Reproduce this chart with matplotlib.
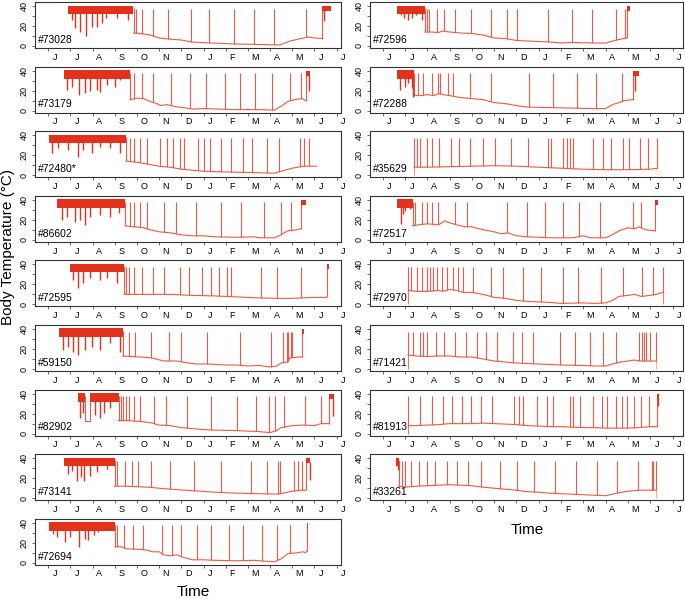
import matplotlib.pyplot as plt
import matplotlib.transforms as mtransforms

plt.rcParams['font.family'] = ['Liberation Sans', 'DejaVu Sans']

# x axis in months since 1 June (0 = Jun, 13 = Jul next year)
months = ["J", "J", "A", "S", "O", "N", "D", "J", "F", "M", "A", "M", "J", "J"]

ids = ["#73028", "#73179", "#72480*", "#86602", "#72595", "#59150", "#82902", "#73141", "#72694",
       "#72596", "#72288", "#35629", "#72517", "#72970", "#71421", "#81913", "#33261"]

# euthermic summer periods (start, end)
summers = [
    [(0.9, 3.82)], [(0.71, 3.7)], [(0.05, 3.51)], [(0.41, 3.47)], [(0.98, 3.42)],
    [(0.5, 3.36)], [(1.36, 1.66), (1.86, 3.17)], [(0.72, 2.99)], [(0.05, 3.02)],
    [(0.66, 1.9)], [(0.66, 1.41)], [], [(0.66, 1.35)], [], [], [], [(0.6, 0.72)],
]

# downward spikes during the summer (month, min Tb)
summer_dips = [
    [(1.05, 26), (1.2, 18), (1.43, 14), (1.7, 10), (1.96, 19), (2.19, 19), (2.41, 23), (2.6, 28), (3.1, 28), (3.6, 26)],
    [(0.83, 21), (1.06, 24), (1.39, 16), (1.66, 18), (1.89, 20), (2.19, 21), (2.34, 19), (2.64, 26), (3.02, 24), (3.24, 31)],
    [(0.15, 22), (0.45, 27), (0.9, 25), (1.36, 18), (1.58, 25), (1.96, 22), (2.34, 28), (2.79, 27), (3.24, 22)],
    [(0.6, 20), (0.83, 23), (1.21, 18), (1.43, 20), (1.66, 15), (1.89, 23), (2.34, 25), (2.79, 23), (3.17, 27)],
    [(1.13, 24), (1.36, 16), (1.58, 21), (1.89, 26), (2.34, 24), (2.64, 26), (3.09, 21)],
    [(0.68, 19), (0.9, 22), (1.13, 17), (1.36, 14), (1.66, 19), (1.96, 22), (2.34, 19), (2.79, 26), (3.24, 17)],
    [(1.45, 16), (1.58, 21), (2.11, 19), (2.34, 16), (2.49, 21), (2.79, 26), (3.02, 33)],
    [(0.9, 24), (1.06, 27), (1.28, 17), (1.46, 21), (1.61, 17), (1.89, 22), (2.19, 26), (2.64, 29)],
    [(0.23, 29), (0.38, 26), (0.75, 21), (0.98, 26), (1.39, 16), (1.66, 24), (1.81, 23), (2.04, 28), (2.26, 31)],
    [(0.81, 31), (0.96, 28), (1.15, 26), (1.3, 28), (1.49, 31), (1.75, 26)],
    [(0.78, 21), (1.0, 24), (1.15, 28), (1.3, 23), (1.38, 14)],
    [],
    [(0.82, 16), (0.9, 26), (1.0, 29), (1.23, 31)],
    [], [], [],
    [(0.68, 28)],
]

# short drop to torpor inside a summer (only #82902)
gap_lines = [None] * 6 + [[(1.66, 13), (1.86, 13)]] + [None] * 10

# torpor baseline (month, Tb)
bases = [
    [(3.85, 13), (4.3, 12), (4.6, 11), (5.0, 8), (5.4, 7), (6.0, 6), (6.45, 4), (7.4, 3), (8.4, 2), (9.6, 1.5),
     (10.45, 1), (10.9, 5), (11.5, 8), (11.75, 9), (12.0, 8), (12.35, 7.5)],
    [(3.7, 11), (4.0, 12.5), (4.3, 12), (4.6, 9), (4.9, 7), (5.05, 5), (5.35, 6), (5.7, 4), (6.1, 3), (6.5, 1.5),
     (7.0, 2), (8.4, 1), (9.5, 1), (10.2, 0.5), (10.55, 5), (10.8, 9), (11.1, 11), (11.45, 12), (11.6, 10)],
    [(3.51, 14), (4.0, 13), (4.5, 11), (5.0, 9), (5.5, 8), (6.0, 6), (6.5, 5), (7.0, 4), (7.5, 3.5), (8.5, 3),
     (9.5, 2.5), (10.2, 2), (10.5, 4), (11.0, 7), (11.5, 9), (12.0, 9), (12.1, 9)],
    [(3.47, 14), (3.9, 13), (4.3, 12), (4.6, 10), (5.0, 8), (5.5, 7), (6.0, 5), (6.5, 4), (7.0, 4), (7.5, 3),
     (8.5, 2.5), (9.3, 3), (9.5, 2), (10.2, 2), (10.5, 5), (10.8, 9), (11.2, 10), (11.39, 11)],
    [(3.42, 10), (4.5, 10), (5.5, 10), (6.5, 9), (7.5, 8.5), (8.5, 7.5), (9.5, 6.5), (10.5, 6), (11.0, 6),
     (11.9, 7), (12.56, 7)],
    [(3.36, 13), (3.7, 12.5), (4.2, 12), (4.7, 11), (5.2, 8), (5.8, 8), (6.3, 6), (6.7, 5), (7.2, 5), (8.0, 4),
     (8.5, 4), (9.0, 3), (9.5, 3.5), (10.0, 2), (10.3, 3), (10.5, 6), (10.8, 7), (10.9, 11), (11.3, 12), (11.46, 12)],
    [(3.17, 13), (3.6, 13), (4.2, 12), (4.6, 11), (5.0, 8.5), (5.5, 8), (6.0, 6), (6.5, 5), (7.0, 4), (7.5, 3.5),
     (8.5, 3), (9.5, 2), (10.0, 1), (10.3, 3), (10.5, 6), (11.0, 8), (11.5, 8.5), (12.0, 8), (12.3, 10), (12.67, 10)],
    [(2.99, 12), (3.5, 12), (4.5, 11), (5.5, 9), (6.5, 7.5), (7.5, 6), (8.5, 5), (9.5, 4.5), (10.3, 4), (10.6, 5),
     (11.0, 7), (11.4, 8), (11.61, 8)],
    [(3.02, 16), (3.3, 16), (3.5, 14), (4.0, 13.5), (4.4, 13), (4.7, 11), (5.0, 11), (5.2, 8), (5.5, 7), (5.8, 8),
     (6.0, 6), (6.5, 3), (7.0, 3), (7.5, 2.5), (8.5, 2), (9.3, 2.5), (9.5, 2), (10.2, 1), (10.5, 4), (10.8, 9),
     (11.2, 10), (11.5, 11), (11.6, 10), (11.66, 12)],
    [(1.9, 14), (2.2, 14), (2.5, 13.5), (2.7, 15), (3.0, 14), (3.5, 13), (4.0, 12.5), (4.5, 11), (5.0, 8),
     (5.5, 7.5), (6.0, 5.5), (6.5, 5), (7.5, 4), (8.0, 3), (8.5, 3.5), (9.5, 3), (10.0, 3), (10.5, 6), (10.94, 8)],
    [(1.41, 15), (1.7, 15), (2.0, 16), (2.3, 15), (2.5, 17), (2.7, 16), (3.0, 15), (3.5, 13), (4.0, 12),
     (4.5, 11), (5.0, 8), (5.5, 7), (6.0, 5), (6.5, 3.5), (7.5, 3), (8.5, 2.5), (9.5, 2), (10.0, 2), (10.3, 6),
     (10.6, 8), (10.85, 10), (11.21, 11)],
    [(1.41, 8), (2.0, 8), (3.0, 8.5), (4.0, 9), (5.0, 9.5), (6.0, 9), (7.0, 8), (8.0, 7), (9.0, 6), (10.0, 5.5),
     (11.0, 5.5), (12.0, 6), (12.32, 7)],
    [(1.35, 14), (1.6, 15), (2.0, 16), (2.5, 15), (2.8, 19), (3.0, 17), (3.3, 15), (3.7, 13), (4.0, 13),
     (4.5, 10), (5.0, 8), (5.3, 6), (5.6, 7), (6.0, 4), (6.5, 3), (7.0, 2.5), (7.5, 2), (8.5, 2), (9.0, 4),
     (9.3, 2), (10.0, 2), (10.3, 5), (10.6, 9), (11.0, 12), (11.3, 11), (11.5, 13), (11.8, 10), (12.21, 9)],
    [(1.15, 14), (1.5, 13), (2.0, 13), (2.5, 14), (2.7, 13), (3.0, 15), (3.3, 14), (3.6, 12), (4.0, 12),
     (4.5, 10), (5.0, 7), (5.5, 6), (6.0, 4), (6.5, 3), (7.0, 2.5), (7.5, 2), (8.0, 1), (9.0, 1.5), (9.5, 1),
     (10.0, 1.5), (10.3, 4), (10.6, 8), (11.0, 9), (11.3, 10), (11.6, 8), (12.0, 9), (12.25, 10), (12.56, 12)],
    [(1.15, 14), (1.5, 13), (2.0, 12.5), (2.5, 13), (3.0, 13), (3.5, 12), (4.0, 12), (4.5, 10), (5.0, 8),
     (6.0, 6), (7.0, 5), (8.0, 4), (9.0, 3.5), (9.5, 3), (10.0, 3), (10.3, 5), (10.7, 7), (11.0, 8), (11.3, 9),
     (11.5, 8), (12.26, 8)],
    [(1.15, 8), (1.5, 8), (2.0, 8.5), (2.5, 9), (3.0, 10), (3.5, 10), (4.0, 10), (4.5, 10.5), (5.0, 10),
     (5.5, 9.5), (6.0, 9), (6.5, 8), (7.0, 7.5), (7.5, 7), (8.0, 7), (8.5, 6.5), (9.0, 6), (9.5, 6), (10.0, 5.5),
     (11.0, 5.5), (11.5, 6), (12.0, 7), (12.29, 7)],
    [(0.72, 12), (1.0, 11), (1.5, 12), (2.0, 12.5), (2.5, 13), (3.0, 13.5), (3.5, 13), (4.0, 12.5), (4.5, 11),
     (5.0, 10), (5.5, 9), (6.0, 8), (6.5, 6.5), (7.0, 6), (7.5, 5), (8.0, 4.5), (8.5, 4), (9.0, 3.5), (9.5, 3),
     (10.0, 2.5), (10.5, 5), (11.0, 7), (11.5, 8), (12.0, 8), (12.26, 8)],
]

# periodic arousals (month of peak)
arousals = [
    [3.97, 4.22, 4.72, 5.38, 6.44, 7.24, 8.37, 9.28, 10.18, 11.61],
    [3.88, 4.22, 4.72, 5.54, 6.38, 7.09, 7.99, 8.64, 9.31, 10.1, 10.9, 11.39],
    [3.67, 3.85, 4.12, 4.45, 5.02, 5.35, 5.63, 5.96, 6.11, 6.76, 7.01, 7.28, 7.77, 8.22, 8.79, 9.2, 9.88,
     10.41, 11.34, 11.54, 11.76],
    [3.67, 3.85, 4.12, 4.45, 5.2, 5.78, 6.68, 7.77, 8.7, 9.73, 10.48, 10.94],
    [3.51, 3.62, 3.88, 4.22, 4.71, 5.2, 5.96, 6.33, 6.94, 7.32, 7.69, 8.07, 8.25, 9.58, 10.33, 11.39],
    [3.62, 3.92, 4.63, 5.43, 6.0, 7.16, 8.64, 10.06, 10.6, 10.75, 10.81, 10.94, 11.01],
    [3.27, 3.39, 3.51, 3.62, 3.85, 4.15, 4.78, 5.32, 6.26, 7.32, 8.52, 9.35, 9.95, 10.21, 10.63, 11.57, 12.29],
    [3.12, 3.44, 3.77, 4.03, 4.63, 5.48, 6.56, 7.77, 9.13, 9.88, 10.36, 10.45, 11.09, 11.28, 11.46],
    [3.12, 3.42, 3.8, 4.27, 5.13, 5.58, 5.99, 6.71, 7.35, 8.14, 8.79, 9.62, 10.33, 10.9],
    [1.97, 2.09, 2.42, 2.75, 3.24, 3.96, 4.86, 5.56, 6.01, 7.43, 8.48, 9.37, 10.46, 10.87],
    [1.6, 1.82, 2.2, 2.5, 2.57, 2.94, 3.17, 3.92, 4.84, 6.58, 7.65, 8.7, 9.57, 10.72],
    [1.41, 1.55, 1.67, 2.0, 2.2, 2.54, 3.06, 3.42, 3.92, 4.51, 5.04, 5.74, 6.53, 7.43, 7.54, 8.07, 8.25, 8.4,
     8.55, 9.45, 9.87, 10.24, 10.76, 11.06, 11.54, 11.91, 12.32],
    [1.45, 1.75, 2.0, 2.2, 2.5, 3.24, 3.8, 5.56, 6.46, 7.28, 8.07, 8.82, 9.75, 11.24, 11.57],
    [1.15, 1.26, 1.52, 1.75, 2.0, 2.12, 2.27, 2.42, 2.65, 2.87, 3.17, 3.39, 3.62, 4.04, 4.84, 5.38, 6.31, 7.1,
     8.07, 8.78, 9.79, 10.76, 11.61, 12.14, 12.56],
    [1.15, 1.38, 1.67, 1.79, 1.97, 2.39, 2.75, 3.24, 3.74, 4.25, 4.63, 5.11, 5.83, 6.23, 6.73, 7.95, 8.62, 9.3,
     9.9, 10.46, 11.51, 11.61, 11.72, 11.81, 11.99, 12.26],
    [1.15, 1.67, 2.2, 2.72, 3.09, 3.54, 3.96, 4.41, 4.89, 5.89, 6.13, 6.28, 6.91, 7.38, 7.65, 8.4, 8.55, 8.85,
     9.45, 9.82, 10.04, 10.46, 10.72, 10.94, 11.27, 11.58, 11.96],
    [0.85, 1.0, 1.26, 1.63, 1.97, 2.35, 2.9, 3.35, 3.84, 4.41, 5.26, 6.01, 6.8, 7.73, 8.67, 9.63, 10.49,
     11.46, 12.06, 12.14, 12.26],
]

# spring emergence (start, end) and its dips
springs = [(12.35, 12.75), (11.6, 11.8), None, (11.39, 11.6), (12.56, 12.66), (11.46, 11.52), (12.67, 12.9),
           (11.61, 11.8), (11.66, 11.72), (10.94, 11.1), (11.21, 11.5), None, (12.21, 12.35), None, None,
           (12.29, 12.4), None]
spring_dips = [[(12.45, 25)], [(11.75, 20)], [], [], [], [], [(12.85, 18)], [(11.78, 18)], [], [],
               [(11.3, 20)], [], [], [], [], [(12.35, 28)], []]

red = "#e2311c"
thin = "#ee5a45"
W, H = 685, 599
fig = plt.figure(figsize=(W / 100, H / 100), dpi=100)

for k, name in enumerate(ids):
    if k < 9:
        row, x0, w, xl = k, 35, 306, (-0.6, 13.2)
    else:
        row, x0, w, xl = k - 9, 370, 313, (-0.57, 13.47)
    top = 2 + 64.6 * row
    ax = fig.add_axes([x0 / W, 1 - (top + 46) / H, w / W, 46 / H])
    ax.set_xlim(*xl)
    ax.set_ylim(-2, 44)

    # summer activity: dense band plus dips
    for s, e in summers[k]:
        ax.fill_between([s, e], 32, 40.5, color=red, lw=0, zorder=4)
    for x, t in summer_dips[k]:
        ax.vlines(x, t, 36, color=red, lw=1.0, zorder=4)
    if gap_lines[k]:
        gx, gy = zip(*gap_lines[k])
        ax.plot(gx, gy, color=thin, lw=0.8, zorder=3)
        ax.vlines(gx, gy, 38, color=thin, lw=0.8, zorder=3)

    # arousals, then mask below the baseline and draw it
    bx, by = zip(*bases[k])
    ax.vlines(arousals[k], 0, 37.5, color=thin, lw=0.8, zorder=1)
    ax.fill_between(bx, -2, by, color="white", lw=0, zorder=2)
    ax.plot(bx, by, color=thin, lw=0.8, zorder=3)
    if summers[k]:
        ax.vlines(bx[0], by[0], 38, color=thin, lw=0.8, zorder=3)

    if springs[k]:
        s, e = springs[k]
        ax.vlines(bx[-1], by[-1], 38, color=thin, lw=0.8, zorder=3)
        ax.fill_between([s, e], 35, 40, color=red, lw=0, zorder=4)
        for x, t in spring_dips[k]:
            ax.vlines(x, t, 36, color=red, lw=1.0, zorder=4)

    ax.text(0.01, 0.07, name, transform=ax.transAxes, fontsize=7.5, va="bottom", ha="left")

    ax.set_xticks(range(14))
    ax.set_xticklabels([])
    ax.set_yticks([0, 10, 20, 30, 40])
    ax.set_yticklabels(["0", "", "20", "", "40"], rotation=90, va="center", fontsize=6.5)
    ax.tick_params(direction="out", length=2.5, width=0.6, color="#555555", pad=2)
    for sp in ax.spines.values():
        sp.set_linewidth(0.8)
        sp.set_color("#333333")
    tr = mtransforms.blended_transform_factory(ax.transData, ax.transAxes)
    for i, m in enumerate(months):
        ax.text(i + 0.3, -0.2, m, transform=tr, fontsize=6.5, ha="center", va="center", clip_on=False)

fig.text(8 / W, 1 - 247 / H, "Body Temperature (°C)", rotation=90, fontsize=11, ha="center", va="center")
fig.text(193 / W, 1 - 592 / H, "Time", fontsize=11, ha="center", va="center")
fig.text(527 / W, 1 - 530 / H, "Time", fontsize=11, ha="center", va="center")

fig.savefig("out.png", dpi=100)
